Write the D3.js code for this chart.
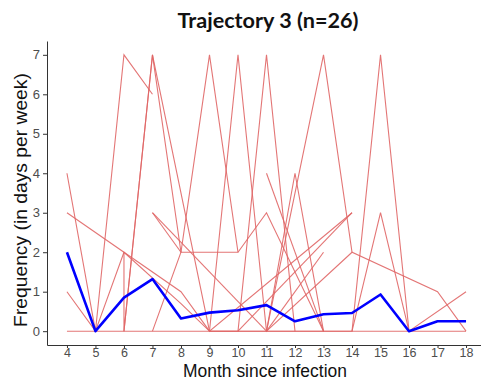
<!DOCTYPE html>
<html>
<head>
<meta charset="utf-8">
<script src="https://cdn.jsdelivr.net/npm/d3@7/dist/d3.min.js"></script>
<style>
    body { margin: 0; background: #fff; }
    .tick text { font-family: "Liberation Sans", Arial, sans-serif; font-size: 13px; fill: #4d4d4d; }
    .xax .tick text { font-size: 12.5px; }
    .tick line, .domain { stroke: #333; }
</style>
</head>
<body>
<svg id="chart" width="481" height="381"></svg>
<script>
// tick labels
var months = [4, 5, 6, 7, 8, 9, 10, 11, 12, 13, 14, 15, 16, 17, 18];
var freqTicks = [0, 1, 2, 3, 4, 5, 6, 7];

// group mean (blue line), one value per month
var meanFreq = [2, 0, 0.85, 1.32, 0.32, 0.47, 0.53, 0.66, 0.25, 0.43, 0.46, 0.93, 0, 0.25, 0.25];

// individual trajectories, [month, days per week]
var p01 = [[4, 4], [5, 0], [6, 7], [7, 6]];
var p02 = [[4, 3], [8, 1], [9, 0], [14, 3]];
var p03 = [[4, 1], [5, 0], [6, 2], [8, 0.7], [9, 0], [10, 7], [11, 0], [14, 2], [17, 1], [18, 0]];
var p04 = [[6, 2], [6, 0], [7, 7], [9, 0], [14, 0], [15, 7], [16, 0]];
var p05 = [[6, 0], [7, 7], [8, 2], [10, 2], [11, 3], [13, 0]];
var p06 = [[7, 0], [8, 2], [9, 7], [10, 2]];
var p07 = [[7, 3], [8, 2]];
var p08 = [[7, 3], [11, 0]];
var p09 = [[9, 0], [10, 0], [11, 7], [12, 0]];
var p10 = [[10, 0], [14, 3]];
var p11 = [[11, 4], [13, 0]];
var p12 = [[11, 0], [12, 4], [13, 0]];
var p13 = [[11, 0], [13, 7], [14, 2]];
var p14 = [[11, 0], [13, 2]];
var p15 = [[14, 0], [15, 3], [16, 0], [18, 1]];
var p16 = months.map(function(m) { return [m, 0]; });

var individuals = [p16, p01, p02, p03, p04, p05, p06, p07, p08, p09, p10, p11, p12, p13, p14, p15];

var svg = d3.select('#chart');

var x = d3.scaleLinear().domain([3.3, 18.7]).range([47, 486]);
var y = d3.scaleLinear().domain([-0.35, 7.35]).range([345, 41]);

var line = d3.line()
    .x(function(d) { return x(d[0]); })
    .y(function(d) { return y(d[1]); });

// red individual lines
svg.append('g').selectAll('path')
    .data(individuals).enter()
    .append('path')
    .attr('d', line)
    .attr('fill', 'none')
    .attr('stroke', '#e06666')
    .attr('stroke-width', 1.1)
    .attr('stroke-opacity', 0.9);

// blue mean line
svg.append('path')
    .datum(months.map(function(m, i) { return [m, meanFreq[i]]; }))
    .attr('d', line)
    .attr('fill', 'none')
    .attr('stroke', '#0000ff')
    .attr('stroke-width', 2.6)
    .attr('stroke-linejoin', 'round');

// axes
svg.append('g')
    .attr('transform', 'translate(47,0)')
    .call(d3.axisLeft(y).tickValues(freqTicks).tickSize(4).tickSizeOuter(0).tickPadding(3));

svg.append('g')
    .attr('class', 'xax')
    .attr('transform', 'translate(0,345)')
    .call(d3.axisBottom(x).tickValues(months).tickSize(3).tickSizeOuter(0).tickPadding(0));

// make a text line fit a measured width
function fitText(t, w) {
    var len = t.node().getComputedTextLength();
    var fs = parseFloat(t.attr('font-size'));
    t.attr('font-size', (fs * w / len).toFixed(2));
}

var title = svg.append('text')
    .attr('x', 268).attr('y', 28)
    .attr('text-anchor', 'middle')
    .attr('font-family', 'Lato, "Open Sans", sans-serif')
    .attr('font-weight', 'bold')
    .attr('font-size', 18)
    .attr('fill', '#111')
    .text('Trajectory 3 (n=26)');
fitText(title, 181);

var xTitle = svg.append('text')
    .attr('x', 265).attr('y', 377.3)
    .attr('text-anchor', 'middle')
    .attr('font-family', '"Liberation Sans", Arial, sans-serif')
    .attr('font-size', 18)
    .attr('fill', '#111')
    .text('Month since infection');
fitText(xTitle, 164);

var yTitle = svg.append('text')
    .attr('transform', 'translate(27,200) rotate(-90)')
    .attr('text-anchor', 'middle')
    .attr('font-family', '"Liberation Sans", Arial, sans-serif')
    .attr('font-size', 19)
    .attr('fill', '#111')
    .text('Frequency (in days per week)');
fitText(yTitle, 254);
</script>
</body>
</html>
